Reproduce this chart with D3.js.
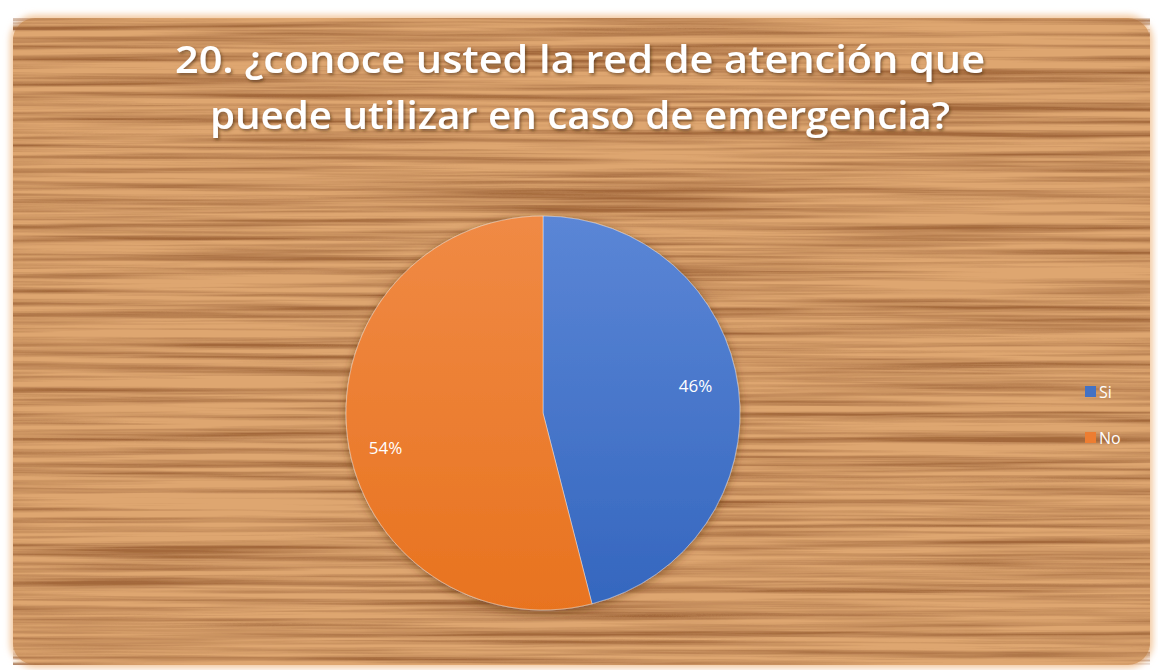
<!DOCTYPE html>
<html>
<head>
<meta charset="utf-8">
<script src="https://cdn.jsdelivr.net/npm/d3@7"></script>
<style>
  html, body { margin: 0; padding: 0; background: #ffffff; }
  svg { display: block; }
</style>
</head>
<body>
<script>
const svgWidth = 1158;
const svgHeight = 670;

// Data
const categories = ['Si', 'No'];
const values = [46, 54];
const colors = ['#4472c4', '#ed7d31'];
const titleLines = ['20. ¿conoce usted la red de atención que', 'puede utilizar en caso de emergencia?'];

const panel = {x: 13, y: 18, w: 1137, h: 647, r: 22};
const pieCenter = {x: 543, y: 413};
const radius = 197;

const svg = d3.select('body').append('svg')
    .attr('width', svgWidth)
    .attr('height', svgHeight);

const defs = svg.append('defs');

// Wood grain texture: stretched turbulence, mapped to warm tones
const wood = defs.append('filter')
    .attr('id', 'wood')
    .attr('x', 0).attr('y', 0).attr('width', '100%').attr('height', '100%');
wood.append('feTurbulence')
    .attr('type', 'fractalNoise')
    .attr('baseFrequency', '0.0025 0.16')
    .attr('numOctaves', 4)
    .attr('seed', 11)
    .attr('result', 'noise');
wood.append('feColorMatrix')
    .attr('in', 'noise')
    .attr('type', 'matrix')
    .attr('values', '0 0 0 0 0  0 0 0 0 0  0 0 0 0 0  2.2 0 0 0 -0.75')
    .attr('result', 'grain');
wood.append('feFlood').attr('flood-color', '#8f4f20').attr('result', 'dark');
wood.append('feComposite').attr('in', 'dark').attr('in2', 'grain').attr('operator', 'in').attr('result', 'darkGrain');
wood.append('feComponentTransfer').attr('in', 'darkGrain').attr('result', 'soft')
    .append('feFuncA').attr('type', 'linear').attr('slope', 0.8);
wood.append('feComposite').attr('in', 'soft').attr('in2', 'SourceGraphic').attr('operator', 'over');

// Outer glow of the panel
const glow = defs.append('filter').attr('id', 'glow')
    .attr('x', '-5%').attr('y', '-5%').attr('width', '110%').attr('height', '110%');
glow.append('feGaussianBlur').attr('stdDeviation', 3);

// Pie shadow
const pieShadow = defs.append('filter').attr('id', 'pieShadow')
    .attr('x', '-20%').attr('y', '-20%').attr('width', '140%').attr('height', '140%');
pieShadow.append('feDropShadow')
    .attr('dx', 0).attr('dy', 2).attr('stdDeviation', 5)
    .attr('flood-color', '#5a2f10').attr('flood-opacity', 0.55);

// Title shadow
const titleShadow = defs.append('filter').attr('id', 'titleShadow')
    .attr('x', '-5%').attr('y', '-20%').attr('width', '110%').attr('height', '140%');
titleShadow.append('feDropShadow')
    .attr('dx', 1.5).attr('dy', 2).attr('stdDeviation', 1.5)
    .attr('flood-color', '#4a2a10').attr('flood-opacity', 0.6);

// Slice gradients (lighter toward top)
const gradStops = [['#5b86d6', '#3466be'], ['#f08a45', '#e8731f']];
gradStops.forEach((s, i) => {
    const g = defs.append('linearGradient')
        .attr('id', 'grad' + i)
        .attr('gradientUnits', 'userSpaceOnUse')
        .attr('x1', 0).attr('y1', -radius).attr('x2', 0).attr('y2', radius);
    g.append('stop').attr('offset', '0%').attr('stop-color', s[0]);
    g.append('stop').attr('offset', '100%').attr('stop-color', s[1]);
});

// Panel
svg.append('rect')
    .attr('x', panel.x - 3).attr('y', panel.y - 3)
    .attr('width', panel.w + 6).attr('height', panel.h + 6)
    .attr('rx', panel.r + 3)
    .attr('fill', '#f3c9a0')
    .attr('filter', 'url(#glow)');

svg.append('rect')
    .attr('x', panel.x).attr('y', panel.y)
    .attr('width', panel.w).attr('height', panel.h)
    .attr('rx', panel.r)
    .attr('fill', '#dea670')
    .attr('filter', 'url(#wood)');

// Title
const title = svg.append('g').attr('filter', 'url(#titleShadow)');
title.selectAll('text')
    .data(titleLines)
    .enter()
    .append('text')
        .attr('x', 580)
        .attr('y', (d, i) => 73 + i * 56)
        .attr('text-anchor', 'middle')
        .attr('textLength', (d, i) => i === 0 ? 810 : 740)
        .attr('lengthAdjust', 'spacingAndGlyphs')
        .style('font-family', '"Open Sans", "Noto Sans", sans-serif')
        .style('font-weight', 600)
        .style('font-size', '38px')
        .style('fill', '#ffffff')
        .text(d => d);

// Pie
const pie = d3.pie().sort(null).value(d => d.value);
const arc = d3.arc().innerRadius(0).outerRadius(radius);
const labelArc = d3.arc().innerRadius(radius * 0.78).outerRadius(radius * 0.78);

const data = categories.map((c, i) => ({category: c, value: values[i], color: colors[i], idx: i}));
const total = d3.sum(values);

const pieG = svg.append('g')
    .attr('transform', 'translate(' + pieCenter.x + ',' + pieCenter.y + ')');

pieG.append('g')
    .attr('filter', 'url(#pieShadow)')
    .selectAll('path')
    .data(pie(data))
    .enter()
    .append('path')
        .attr('d', arc)
        .attr('fill', d => 'url(#grad' + d.data.idx + ')')
        .attr('stroke', '#ffffff')
        .attr('stroke-opacity', 0.5)
        .attr('stroke-width', 0.8);

const labelOffsets = [[0, -8], [-5, 15]];
pieG.selectAll('text.label')
    .data(pie(data))
    .enter()
    .append('text')
        .attr('class', 'label')
        .attr('x', d => labelArc.centroid(d)[0] + labelOffsets[d.data.idx][0])
        .attr('y', d => labelArc.centroid(d)[1] + labelOffsets[d.data.idx][1])
        .attr('text-anchor', 'middle')
        .attr('dominant-baseline', 'central')
        .style('font-family', '"Open Sans", "Noto Sans", sans-serif')
        .style('font-size', '17px')
        .style('fill', '#ffffff')
        .text(d => Math.round(d.data.value / total * 100) + '%');

// Legend
const legend = svg.append('g')
    .attr('transform', 'translate(1085,386)');
const legendItem = legend.selectAll('g')
    .data(data)
    .enter()
    .append('g')
        .attr('transform', (d, i) => 'translate(0,' + i * 46 + ')');
legendItem.append('rect')
    .attr('width', 11).attr('height', 11)
    .attr('fill', d => d.color);
legendItem.append('text')
    .attr('x', 14).attr('y', 6)
    .attr('dominant-baseline', 'central')
    .style('font-family', '"Open Sans", "Noto Sans", sans-serif')
    .style('font-size', '16px')
    .style('fill', '#ffffff')
    .text(d => d.category);
</script>
</body>
</html>
